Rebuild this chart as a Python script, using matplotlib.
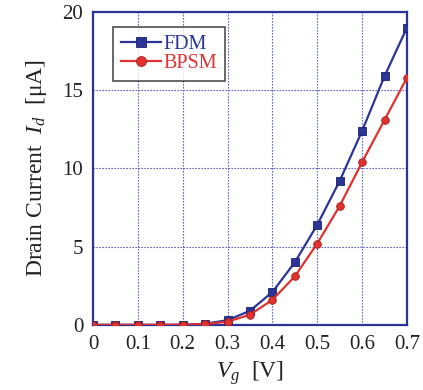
import matplotlib
matplotlib.use("Agg")
import matplotlib.pyplot as plt

plt.rcParams['font.family'] = ['Liberation Serif', 'DejaVu Serif']
plt.rcParams['mathtext.fontset'] = 'custom'
plt.rcParams['mathtext.rm'] = 'Liberation Serif'
plt.rcParams['mathtext.it'] = 'Liberation Serif:italic'

vg = [0, 0.05, 0.1, 0.15, 0.2, 0.25, 0.3, 0.35, 0.4, 0.45, 0.5, 0.55, 0.6, 0.65, 0.7]
fdm = [0, 0, 0, 0, 0.01, 0.07, 0.3, 0.9, 2.1, 4.0, 6.4, 9.2, 12.4, 15.9, 19.0]
bpsm = [0, 0, 0, 0, 0.01, 0.05, 0.2, 0.65, 1.6, 3.1, 5.2, 7.6, 10.4, 13.1, 15.8]
xticks = [0, 0.1, 0.2, 0.3, 0.4, 0.5, 0.6, 0.7]
xticklabels = ['0', '0.1', '0.2', '0.3', '0.4', '0.5', '0.6', '0.7']
yticks = [0, 5, 10, 15, 20]

blue = '#2B3497'
red = '#E0312E'
spine = '#2B3497'

fig = plt.figure(figsize=(4.23, 3.9), dpi=100)
ax = fig.add_axes([0.22, 0.167, 0.742, 0.802])

ax.plot(vg, fdm, color=blue, lw=1.6, marker='s', ms=5.5, mfc=blue, mec='#1a1f6e', mew=0.6, label='FDM', zorder=3)
ax.plot(vg, bpsm, color=red, lw=1.6, marker='o', ms=5.5, mfc=red, mec='#a02020', mew=0.6, label='BPSM', zorder=3)

ax.set_xlim(0, 0.7)
ax.set_ylim(0, 20)
ax.set_xticks(xticks)
ax.set_xticklabels(xticklabels)
ax.set_yticks(yticks)
ax.grid(True, color='#3a44c0', ls=(0, (1.2, 1.5)), lw=0.8)
ax.tick_params(direction='in', length=0, labelsize=15, pad=7)
for s in ax.spines.values():
    s.set_color(spine)
    s.set_linewidth(1.6)
for lab in ax.get_xticklabels() + ax.get_yticklabels():
    lab.set_color('#222222')

ax.set_xlabel(r'$V_g$  [V]', fontsize=17, color='#222222', labelpad=4)
ax.set_ylabel(r'Drain Current  $I_d$  [μA]', fontsize=17, color='#222222', labelpad=10)

leg = ax.legend(loc='upper left', bbox_to_anchor=(0.063, 0.952), fontsize=14.5, frameon=True,
                fancybox=False, edgecolor='#222222', handlelength=2.0, handletextpad=0.12,
                borderpad=0.4, labelspacing=0.0, borderaxespad=0, markerscale=1.3)
leg.get_frame().set_linewidth(1.2)
for t, c in zip(leg.get_texts(), [blue, red]):
    t.set_color(c)

fig.savefig('out.png', dpi=100)
